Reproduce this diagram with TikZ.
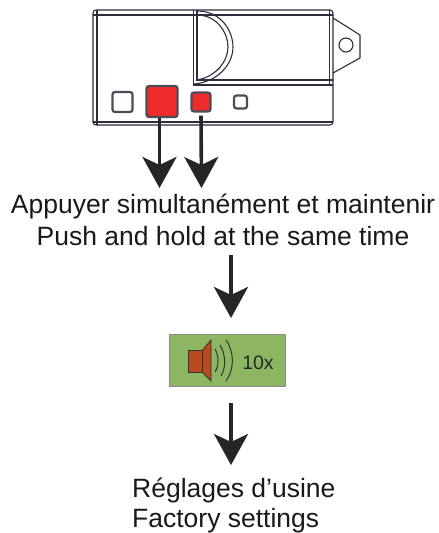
\documentclass[tikz,border=0pt]{standalone}
\usepackage{fontspec}
\setmainfont{Liberation Sans}
\usetikzlibrary{arrows.meta}
\definecolor{casing}{RGB}{45,45,60}
\definecolor{pushred}{RGB}{238,43,42}
\definecolor{panelgreen}{RGB}{141,182,98}
\definecolor{speakerbrown}{RGB}{184,74,32}
\tikzset{
  casingline/.style={draw=casing,line width=1.1},
  pushbutton/.style={draw=casing!85,line width=2.2,rounded corners=2.5,inner sep=0pt},
  bigarrow/.style={draw=black!85,line width=3.6,-{Stealth[length=31pt,width=34pt,inset=8pt]}},
  caption/.style={inner sep=0pt,font=\fontsize{26.5}{30}\selectfont,text=black!90}
}
\begin{document}
\begin{tikzpicture}[x=1pt,y=1pt,yscale=-1,xscale=1]
\useasboundingbox (0,0) rectangle (439,533);

%Casing outline
\draw [casingline,rounded corners=3] (93,10) rectangle (333,125);
%Casing inner lines
\draw [casingline] (93,15) -- (333,15);
\draw [casingline] (93,122) -- (333,122);
\draw [casingline] (97,10) -- (97,125);
\draw [casingline] (329.5,10) -- (329.5,85);
\draw [casingline] (193.5,10) -- (193.5,85) -- (333,85);
\draw [casingline] (197,10) -- (197,80) -- (333,80);
%Half round cover
\draw [casingline] (197,11) .. controls (222,11) and (233,32) .. (233,47) .. controls (233,64) and (218,82) .. (194,84);
\draw [casingline] (197,15) .. controls (217,15) and (228,33) .. (228,47) .. controls (228,62) and (215,77) .. (197,80);
%Fixing tab
\draw [casingline] (333,18) -- (360,35) -- (360,58) -- (333,73);
\draw [casingline] (346,45) circle (7);

%Buttons
\node (btnleft) [pushbutton,fill=white,minimum width=20,minimum height=20] at (122.5,102) {};
\node (btnbig) [pushbutton,fill=pushred,minimum width=31,minimum height=31] at (162,101.5) {};
\node (btnsmall) [pushbutton,fill=pushred,minimum width=19,minimum height=19] at (201,102) {};
\node (btntiny) [pushbutton,fill=white,minimum width=13,minimum height=13] at (240.5,102) {};

%Captions
\node (pushfr) [caption,anchor=base] at (223,213) {Appuyer simultanément et maintenir};
\node (pushen) [caption,anchor=base] at (223,245.5) {Push and hold at the same time};
\node (factoryfr) [caption,anchor=base west] at (132,497) {Réglages d’usine};
\node (factoryen) [caption,anchor=base west] at (132,527.3) {Factory settings};

%Sound panel
\node (panel) [draw=black!45,fill=panelgreen,line width=0.8,inner sep=0pt,minimum width=116,minimum height=52] at (227.5,360) {};
\node (count) [inner sep=0pt,font=\fontsize{19.5}{22}\selectfont,text=black!85] at (258,363) {10x};
%Speaker
\draw [draw=black!80,fill=speakerbrown,line width=0.8] (188.5,350) rectangle (202.5,372.5);
\draw [draw=black!80,fill=speakerbrown,line width=0.8] (202.5,350) -- (211,340) -- (211,381) -- (202.5,372.5) -- cycle;
%Sound waves
\draw [black!80,line width=1] (215,349) .. controls (219,356) and (219,366) .. (215,372);
\draw [black!80,line width=1] (220,345) .. controls (226,355) and (226,368) .. (221,376);
\draw [black!80,line width=1] (226,340) .. controls (235,353) and (234,370) .. (226,381);

%Arrows
\coordinate (tipbig) at (159.5,188);
\coordinate (tipsmall) at (201.5,188);
\coordinate (tippush) at (231,318);
\coordinate (startpush) at (231,255);
\coordinate (tippanel) at (231,465);
\draw [bigarrow] (btnbig.south -| tipbig) -- (tipbig);
\draw [bigarrow,shorten <=3] (btnsmall.south) -- (tipsmall);
\draw [bigarrow] (startpush) -- (tippush);
\draw [bigarrow,shorten <=17] (panel.south -| tippanel) -- (tippanel);

\end{tikzpicture}
\end{document}
